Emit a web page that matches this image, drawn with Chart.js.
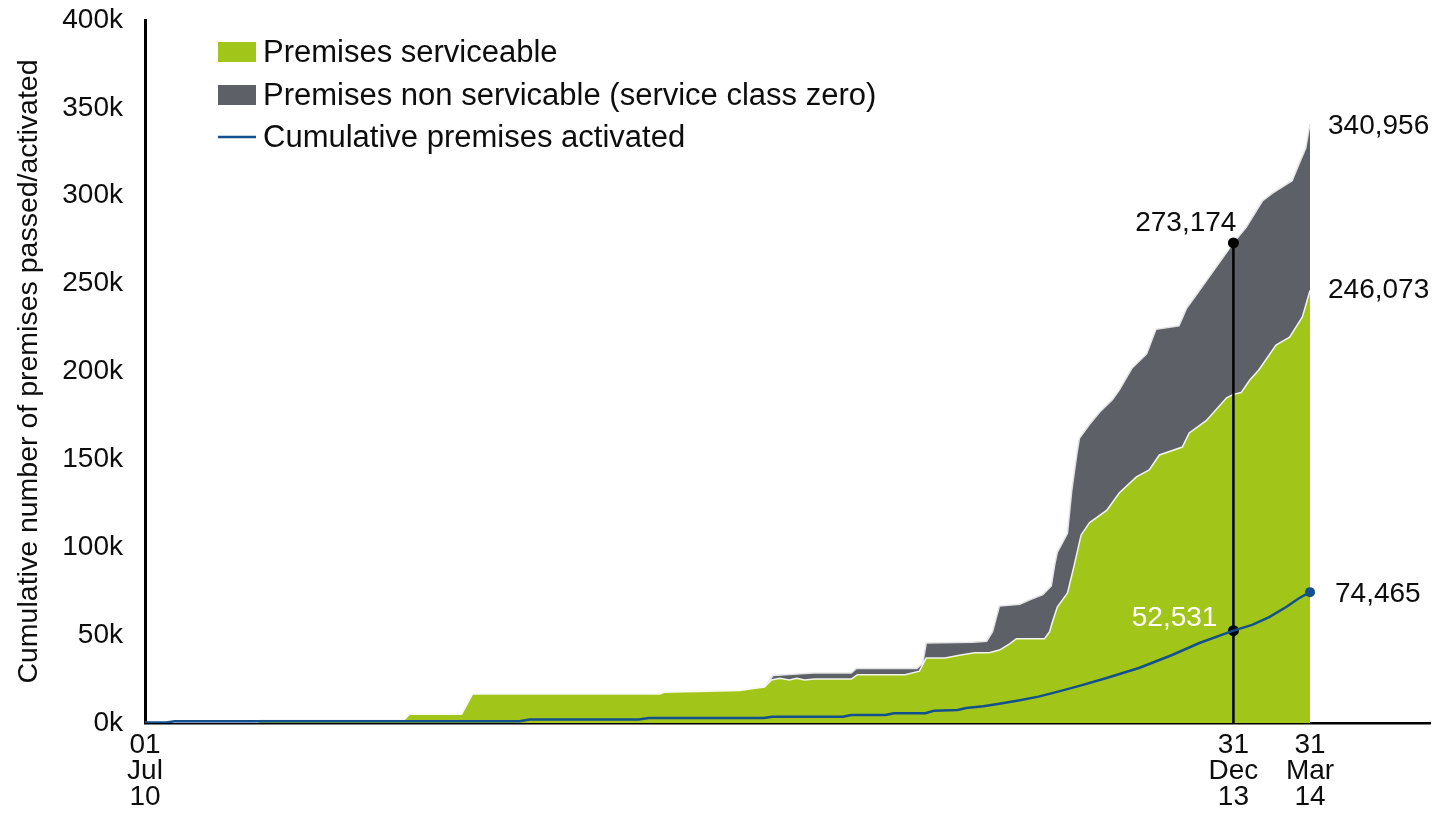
<!DOCTYPE html>
<html>
<head>
<meta charset="utf-8">
<title>Premises passed / activated</title>
<script src="https://cdn.jsdelivr.net/npm/chart.js@4.4.0/dist/chart.umd.min.js"></script>
<style>
  html, body { margin: 0; padding: 0; background: #fff; }
  #wrap { width: 1437px; height: 813px; position: relative; }
</style>
</head>
<body>
<div id="wrap"><canvas id="chart"></canvas></div>
<script>
// ── Data: days counted from 01 Jul 2010, values in thousands of premises ──
const serviceableDays = [0, 129, 137, 304, 311, 372, 385, 605, 610, 699, 713, 728, 736, 746, 757, 766, 775, 787, 830, 837,
  893, 910, 918, 940, 957, 975, 992, 1004, 1016, 1024, 1057, 1063, 1066, 1072, 1084, 1092, 1100, 1110, 1130, 1145,
  1165, 1180, 1192, 1219, 1227, 1247, 1271, 1279, 1288, 1298, 1309, 1329, 1345, 1360, 1369];
const serviceableK = [0, 0, 1.5, 1.5, 5, 5, 16.5, 16.5, 17.5, 18.5, 19.5, 20.5, 24.5, 25.5, 24.5, 25.5, 24.5, 25, 25, 27.5,
  27.5, 29.5, 37, 37, 38.5, 40, 40, 41.5, 45, 48, 48, 52, 57, 66, 74, 90, 107, 114, 121, 131,
  140, 144, 152.5, 157, 165, 172, 185, 187, 188, 195, 201, 215, 219.5, 231, 246.073];

const totalDays = [0, 129, 137, 304, 311, 372, 385, 605, 610, 699, 713, 728, 738, 785, 830, 836, 907, 914, 918, 972,
  989, 996, 1004, 1028, 1039, 1055, 1065, 1069, 1072, 1078, 1084, 1089, 1095, 1098, 1110, 1122, 1137, 1145, 1160, 1177,
  1188, 1215, 1224, 1239, 1279, 1294, 1313, 1325, 1348, 1356, 1364, 1369];
const totalK = [0, 0, 1.5, 1.5, 5, 5, 16.5, 16.5, 17.5, 18.5, 19.5, 20.5, 27, 28.5, 28.5, 31, 31, 34, 45.5, 46,
  46.5, 52, 66.5, 67.5, 70, 73, 78, 90, 97, 102.5, 108, 132, 153, 162, 170, 177, 184, 189.5, 202, 210,
  224, 226, 236, 246, 273.174, 282, 297, 301.5, 308.5, 318, 327, 340.956];

const activatedDays = [0, 25, 35, 440, 452, 580, 592, 727, 737, 820, 830, 870, 880, 917, 927, 955, 965, 985, 1004, 1028,
  1050, 1074, 1097, 1130, 1168, 1207, 1239, 1279, 1301, 1321, 1341, 1356, 1369];
const activatedK = [0.3, 0.3, 1, 1, 2, 2, 2.8, 2.8, 3.6, 3.6, 4.6, 4.6, 5.6, 5.6, 7, 7.4, 8.5, 9.5, 11, 13,
  15, 18, 21, 25.6, 31.3, 38.7, 45.5, 52.531, 55.8, 60.3, 66, 71, 74.465];

const markerDay = 1279;          // 31 Dec 13
const markerTotalK = 273.174;
const markerActivatedK = 52.531;

const tickDays = [0, 1279, 1369];
const tickLabels = [['01', 'Jul', '10'], ['31', 'Dec', '13'], ['31', 'Mar', '14']];
const yTicks = [0, 50, 100, 150, 200, 250, 300, 350, 400];

const seriesNames = ['Premises serviceable', 'Premises non servicable (service class zero)', 'Cumulative premises activated'];

// ── Colours / fonts ──
const GREEN = '#a2c519';
const GREY  = '#5e6068';
const BLUE  = '#12508e';
const INK   = '#0d0d0d';
const FONT  = '"Liberation Sans", Arial, Helvetica, sans-serif';

const pts = (xs, ys) => xs.map((x, i) => ({ x, y: ys[i] }));
const fmt = k => Math.round(k * 1000).toLocaleString('en-US');

const lastIdx = activatedDays.length - 1;

// text callouts next to points (pixel offsets only)
const callouts = [
  { day: 1369, k: totalK[totalK.length - 1], dx: 18, dy: 3, align: 'left', color: INK },
  { day: 1369, k: serviceableK[serviceableK.length - 1], dx: 18, dy: 0, align: 'left', color: INK },
  { day: 1369, k: activatedK[lastIdx], dx: 25, dy: 2, align: 'left', color: INK },
  { day: markerDay, k: markerTotalK, dx: 3, dy: -20, align: 'right', color: INK },
  { day: markerDay, k: markerActivatedK, dx: -16, dy: -12, align: 'right', color: '#fff' }
];

const calloutPlugin = {
  id: 'callouts',
  afterDatasetsDraw(chart) {
    const { ctx, scales: { x, y } } = chart;
    ctx.save();
    ctx.font = '28px ' + FONT;
    ctx.textBaseline = 'middle';
    callouts.forEach(c => {
      ctx.fillStyle = c.color;
      ctx.textAlign = c.align;
      ctx.fillText(fmt(c.k), x.getPixelForValue(c.day) + c.dx, y.getPixelForValue(c.k) + c.dy);
    });

    // legend inside the plot
    const lx = 218, rows = [52, 95, 137];
    ctx.textAlign = 'left';
    ctx.fillStyle = GREEN;
    ctx.fillRect(lx, rows[0] - 10, 38, 20);
    ctx.fillStyle = GREY;
    ctx.fillRect(lx, rows[1] - 10, 38, 20);
    ctx.strokeStyle = BLUE;
    ctx.lineWidth = 2.5;
    ctx.beginPath();
    ctx.moveTo(lx, rows[2]);
    ctx.lineTo(lx + 38, rows[2]);
    ctx.stroke();
    ctx.font = '31px ' + FONT;
    ctx.fillStyle = INK;
    seriesNames.forEach((n, i) => ctx.fillText(n, lx + 45, rows[i] + 1));
    ctx.restore();
  }
};

new Chart(document.getElementById('chart'), {
  type: 'line',
  data: {
    datasets: [
      {
        label: seriesNames[2],
        data: pts(activatedDays, activatedK),
        borderColor: BLUE,
        borderWidth: 2.5,
        pointRadius: ctx => ctx.dataIndex === lastIdx ? 5 : 0,
        pointBackgroundColor: BLUE,
        pointBorderWidth: 0,
        fill: false,
        tension: 0
      },
      {
        label: 'dec-dot',
        data: [{ x: markerDay, y: markerActivatedK }],
        showLine: false,
        pointRadius: 5.5,
        pointBackgroundColor: '#000',
        pointBorderWidth: 0
      },
      {
        label: 'dec-marker',
        data: [{ x: markerDay, y: 0 }, { x: markerDay, y: markerTotalK }],
        borderColor: '#000',
        borderWidth: 2.5,
        pointRadius: [0, 5.5],
        pointBackgroundColor: '#000',
        pointBorderWidth: 0,
        fill: false
      },
      {
        label: seriesNames[0],
        data: pts(serviceableDays, serviceableK),
        borderColor: 'rgba(255,255,255,0.9)',
        borderWidth: 1.5,
        backgroundColor: GREEN,
        pointRadius: 0,
        fill: 'origin',
        tension: 0
      },
      {
        label: seriesNames[1],
        data: pts(totalDays, totalK),
        borderColor: '#e4e4e4',
        borderWidth: 1.5,
        backgroundColor: GREY,
        pointRadius: 0,
        fill: 'origin',
        tension: 0
      }
    ]
  },
  options: {
    responsive: true,
    maintainAspectRatio: false,
    animation: false,
    layout: { padding: { top: 20, right: 7, left: 0, bottom: 0 } },
    plugins: {
      legend: { display: false },
      tooltip: { enabled: false }
    },
    scales: {
      x: {
        type: 'linear',
        min: 0,
        max: 1510,
        grid: { display: false, drawTicks: false },
        border: { color: '#000', width: 2.5 },
        afterBuildTicks: scale => { scale.ticks = tickDays.map(v => ({ value: v })); },
        afterFit: scale => { scale.height = 90; },
        ticks: {
          autoSkip: false,
          maxRotation: 0,
          padding: 9,
          color: INK,
          font: { family: FONT, size: 28, lineHeight: 0.93 },
          callback: (v, i) => tickLabels[i]
        }
      },
      y: {
        min: 0,
        max: 400,
        grid: { display: false, drawTicks: false },
        border: { color: '#000', width: 3 },
        afterBuildTicks: scale => { scale.ticks = yTicks.map(v => ({ value: v })); },
        afterFit: scale => {
          scale.width = 145;
          scale.paddingTop = 0;
          scale.paddingBottom = 0;
        },
        ticks: {
          padding: 22,
          color: INK,
          font: { family: FONT, size: 28 },
          callback: v => v + 'k'
        },
        title: {
          display: true,
          text: 'Cumulative number of premises passed/activated',
          color: INK,
          font: { family: FONT, size: 28.5 },
          padding: { top: 12, bottom: 0 }
        }
      }
    }
  },
  plugins: [calloutPlugin]
});
</script>
</body>
</html>
